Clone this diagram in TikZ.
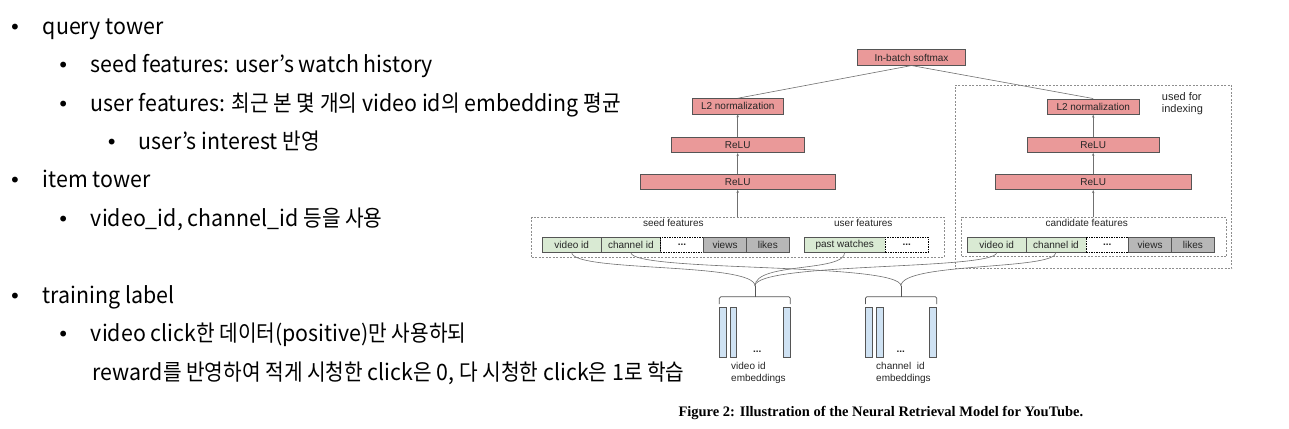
\documentclass[tikz,border=0pt]{standalone}
\usepackage{fontspec}
\setmainfont[FakeStretch=0.95]{Noto Sans CJK KR}
\newfontfamily\ko[FakeStretch=0.9]{Noto Sans CJK KR}
\newfontfamily\diagfont{Liberation Sans}
\newfontfamily\capfont{Liberation Serif}
\newfontfamily\bulfont{DejaVu Sans}
\usetikzlibrary{arrows.meta}
\definecolor{pinkf}{HTML}{EA9999}
\definecolor{greenf}{HTML}{D9EAD3}
\definecolor{grayf}{HTML}{B7B7B7}
\definecolor{bluef}{HTML}{CFE2F3}
\definecolor{edgec}{HTML}{555555}
\definecolor{linec}{HTML}{707070}
\definecolor{dashc}{HTML}{8E8E8E}
\begin{document}
\begin{tikzpicture}[x=1pt,y=-1pt,
 txt/.style={inner sep=0pt, anchor=base west, font=\fontsize{22.5}{27}\selectfont},
 bul/.style={inner sep=0pt, anchor=base, font=\bulfont\fontsize{20}{20}\selectfont},
 dfont/.style={font=\diagfont\fontsize{10}{12}\selectfont},
 layer/.style={draw=edgec, fill=pinkf, line width=0.7pt, minimum height=15.4pt, inner sep=0pt, dfont, text=black!85},
 feat/.style={draw=edgec, fill=greenf, line width=0.7pt, minimum height=14.7pt, inner sep=0pt, dfont, text=black!85},
 featg/.style={feat, fill=grayf},
 featd/.style={feat, fill=white, draw=black, dash pattern=on 1.5pt off 1pt, font=\diagfont\bfseries\fontsize{10}{12}\selectfont},
 grp/.style={draw=dashc, dash pattern=on 2pt off 1.5pt, line width=0.6pt, inner sep=0pt},
 lbl/.style={inner sep=0pt, dfont, text=black!85},
 up/.style={draw=linec, line width=0.6pt, -{Stealth[length=3pt,width=2.4pt]}},
 conn/.style={draw=linec, line width=0.6pt},
 brk/.style={draw=edgec, line width=0.7pt, rounded corners=1.5pt},
 emb/.style={draw=edgec, fill=bluef, line width=0.7pt, minimum width=6.8pt, minimum height=49.6pt, inner sep=0pt},
]
\fill[white] (0,0) rectangle (1289,428);
\useasboundingbox (0,0) rectangle (1289,428);

% ---------- left text ----------
\node[bul] (b1) at (15,34.3) {•};
\node[txt] (t1) at (42.7,34.3) {query tower};
\node[bul] (b2) at (63.3,72.7) {•};
\node[txt] (t2) at (90.7,72.7) {seed features: user’s watch history};
\node[bul] (b3) at (63.3,111) {•};
\node[txt] (t3) at (90.7,111) {user features: {\ko 최근 본 몇 개의} video id{\ko 의} embedding {\ko 평균}};
\node[bul] (b4) at (111.7,149.3) {•};
\node[txt] (t4) at (138.3,149.3) {user’s interest {\ko 반영}};
\node[bul] (b5) at (15,187.7) {•};
\node[txt] (t5) at (42.7,187.7) {item tower};
\node[bul] (b6) at (63.3,226) {•};
\node[txt] (t6) at (90.7,226) {video\_id, channel\_id {\ko 등을 사용}};
\node[bul] (b7) at (15,303.3) {•};
\node[txt] (t7) at (42.7,303.3) {training label};
\node[bul] (b8) at (63.3,341.7) {•};
\node[txt] (t8) at (90.7,341.7) {video click{\ko 한 데이터}(positive){\ko 만 사용하되}};
\node[txt] (t9) at (92.7,380) {reward{\ko 를 반영하여 적게 시청한} click{\ko 은} 0, {\ko 다 시청한} click{\ko 은} 1{\ko 로 학습}};

% ---------- groups ----------
\node[grp, minimum width=276.7pt, minimum height=183.3pt] (idx) at (1093.35,176.65) {};
\node[lbl, anchor=west, align=left, font=\diagfont\fontsize{11}{12.3}\selectfont] (idxl) at (1161.7,103.8) {used for\\indexing};
\node[grp, minimum width=412.6pt, minimum height=40pt] (seedg) at (738,237.3) {};
\node[grp, minimum width=265pt, minimum height=39pt] (candg) at (1094.2,237.2) {};
\node[lbl] (seedl) at (673.3,222.9) {seed features};
\node[lbl] (userl) at (863.3,222.9) {user features};
\node[lbl] (candl) at (1086.7,222.5) {candidate features};

% ---------- layers ----------
\node[layer, minimum width=107.6pt] (sm) at (911.5,57.5) {In-batch softmax};
\node[layer, minimum width=91pt] (l2L) at (737.7,106.3) {L2 normalization};
\node[layer, minimum width=132.7pt] (r1L) at (737.7,145) {ReLU};
\node[layer, minimum width=195.3pt] (r2L) at (737.7,181.8) {ReLU};
\node[layer, minimum width=91.7pt] (l2R) at (1093.2,106.6) {L2 normalization};
\node[layer, minimum width=132pt] (r1R) at (1093.2,144.8) {ReLU};
\node[layer, minimum width=195.7pt] (r2R) at (1093.2,182.1) {ReLU};

% ---------- feature rows ----------
\node[feat, minimum width=58.7pt] (vidL) at (571.7,244.7) {video id};
\node[feat, minimum width=59.7pt] (chL) at (630.8,244.7) {channel id};
\node[featd, minimum width=42.6pt] (dotL) at (682,244.7) {...};
\node[featg, minimum width=43.4pt] (viewL) at (725,244.7) {views};
\node[featg, minimum width=42.3pt] (likeL) at (767.8,244.7) {likes};
\node[feat, minimum width=80.7pt] (past) at (844.7,244.7) {past watches};
\node[featd, minimum width=43.3pt] (dotU) at (906.7,244.7) {...};
\node[feat, minimum width=58.7pt] (vidR) at (996.7,244.7) {video id};
\node[feat, minimum width=60pt] (chR) at (1056,244.7) {channel id};
\node[featd, minimum width=42.3pt] (dotR) at (1107.2,244.7) {...};
\node[featg, minimum width=43.4pt] (viewR) at (1150,244.7) {views};
\node[featg, minimum width=42.3pt] (likeR) at (1192.8,244.7) {likes};

% ---------- arrows ----------
\draw[up] (seedg.north -| r2L) -- (r2L.south);
\draw[up] (r2L.north) -- (r1L.south);
\draw[up] (r1L.north) -- (l2L.south);
\draw[up] (candg.north -| r2R) -- (r2R.south);
\draw[up] (r2R.north) -- (r1R.south);
\draw[up] (r1R.north) -- (l2R.south);
\draw[conn] (sm.south) -- (l2L.north);
\draw[conn] (sm.south) -- (l2R.north);

% ---------- embeddings ----------
\coordinate (vstem) at (755,286);
\coordinate (vbr) at (755,296.7);
\coordinate (cstem) at (901,286);
\coordinate (cbr) at (901,296.7);
\coordinate (vbl) at (719.3,304);
\coordinate (vbrr) at (790.3,304);
\coordinate (cbl) at (865.5,304);
\coordinate (cbrr) at (936.7,304);

\draw[conn] (vidL.south) .. controls +(0,20) and +(0,-24) .. (vstem);
\draw[conn] (past.south) .. controls +(0,20) and +(0,-24) .. (vstem);
\draw[conn] (vidR.south) .. controls +(0,18) and +(0,-24) .. (vstem);
\draw[conn] (chL.south) .. controls +(0,20) and +(0,-24) .. (cstem);
\draw[conn] (chR.south) .. controls +(0,18) and +(0,-24) .. (cstem);

\draw[brk] (vstem) -- (vbr);
\draw[brk] (vbl) |- (vbr) -| (vbrr);
\draw[brk] (cstem) -- (cbr);
\draw[brk] (cbl) |- (cbr) -| (cbrr);

\node[emb] (ev1) at (722.7,332.5) {};
\node[emb] (ev2) at (733.3,332.5) {};
\node[emb] (ev3) at (786.7,332.5) {};
\node[emb] (ec1) at (869,332.5) {};
\node[emb] (ec2) at (879.5,332.5) {};
\node[emb] (ec3) at (933,332.5) {};
\node[lbl, anchor=base, font=\diagfont\bfseries\fontsize{10}{12}\selectfont] (evd) at (757.3,352) {...};
\node[lbl, anchor=base, font=\diagfont\bfseries\fontsize{10}{12}\selectfont] (ecd) at (900.7,352) {...};
\node[lbl, anchor=west, align=left, font=\diagfont\fontsize{10}{12.3}\selectfont] (evl) at (731,372.8) {video id\\embeddings};
\node[lbl, anchor=west, align=left, font=\diagfont\fontsize{10}{12.3}\selectfont] (ecl) at (876,372.8) {channel\ \ id\\embeddings};

% ---------- caption ----------
\node[inner sep=0pt, anchor=base west, font=\capfont\bfseries\fontsize{14.5}{17}\selectfont] (cap) at (678.3,416.5) {Figure 2: Illustration of the Neural Retrieval Model for YouTube.};
\end{tikzpicture}
\end{document}
